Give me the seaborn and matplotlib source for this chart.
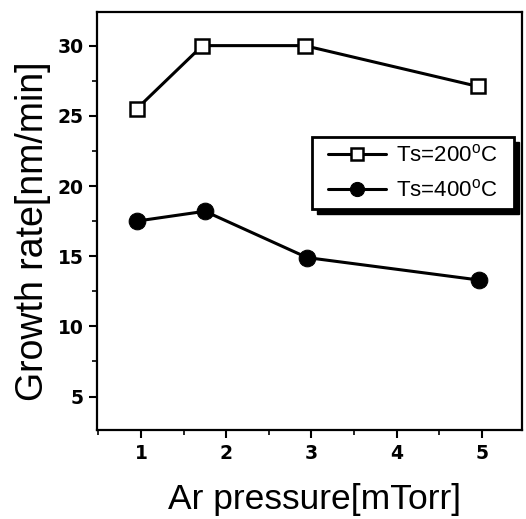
import matplotlib
matplotlib.use("Agg")
import matplotlib.pyplot as plt
import seaborn as sns
import pandas as pd
from matplotlib.ticker import MultipleLocator
from matplotlib.patches import Rectangle

pressure_200 = [0.95, 1.72, 2.92, 4.95]
rate_200 = [25.5, 30.0, 30.0, 27.1]
pressure_400 = [0.95, 1.75, 2.95, 4.97]
rate_400 = [17.5, 18.2, 14.9, 13.3]
labels = ["Ts=200$^{\\rm o}$C", "Ts=400$^{\\rm o}$C"]

df = pd.concat([
    pd.DataFrame({"p": pressure_200, "r": rate_200, "s": labels[0]}),
    pd.DataFrame({"p": pressure_400, "r": rate_400, "s": labels[1]}),
])

sns.set_style("ticks", {"text.color": "black", "axes.labelcolor": "black",
                        "xtick.color": "black", "ytick.color": "black",
                        "axes.edgecolor": "black"})
plt.rcParams["font.family"] = ["Liberation Sans", "DejaVu Sans"]
plt.rcParams["mathtext.fontset"] = "custom"
plt.rcParams["mathtext.rm"] = "Liberation Sans"

W, H = 526, 519
fig = plt.figure(figsize=(W / 100, H / 100), dpi=100)
ax = fig.add_axes([0.184, 0.171, 0.808, 0.806])

sns.lineplot(data=df[df.s == labels[0]], x="p", y="r", ax=ax, color="black",
             marker="s", markersize=10, markerfacecolor="white",
             markeredgecolor="black", markeredgewidth=1.8, linewidth=2.2,
             label=labels[0])
sns.lineplot(data=df[df.s == labels[1]], x="p", y="r", ax=ax, color="black",
             marker="o", markersize=12, markerfacecolor="black",
             markeredgecolor="black", linewidth=2.2, label=labels[1])

ax.set_xlim(0.48, 5.47)
ax.set_ylim(2.6, 32.4)
ax.xaxis.set_major_locator(MultipleLocator(1))
ax.xaxis.set_minor_locator(MultipleLocator(0.5))
ax.yaxis.set_major_locator(MultipleLocator(5))
ax.yaxis.set_minor_locator(MultipleLocator(2.5))
ax.tick_params(which="major", length=6, width=1.5, labelsize=13.5,
               direction="out", colors="black")
ax.tick_params(axis="x", which="major", pad=4)
ax.tick_params(which="minor", length=3.5, width=1.2, direction="out",
               colors="black")
for lab in ax.get_xticklabels() + ax.get_yticklabels():
    lab.set_fontweight("bold")
    lab.set_family("DejaVu Sans")
for sp in ax.spines.values():
    sp.set_linewidth(1.6)
    sp.set_color("black")

ax.set_xlabel("Ar pressure[mTorr]", fontsize=25.5, color="black")
ax.set_ylabel("Growth rate[nm/min]", fontsize=27, color="black")
ax.xaxis.set_label_coords(0.513, -0.127)
ax.yaxis.set_label_coords(-0.108, 0.476)

leg = ax.legend(loc="upper left", bbox_to_anchor=(0.545, 0.683), frameon=False,
                fontsize=16, handlelength=2.6, borderpad=0, labelspacing=0.6,
                handletextpad=0.45, borderaxespad=0, markerscale=0.85,
                labelcolor="black")

fig.canvas.draw()
bb = leg.get_window_extent()
x0, x1 = bb.x0 - 16, bb.x1 + 16
y0, y1 = bb.y0 - 7, bb.y1 + 8
tr = fig.transFigure
sh = Rectangle(((x0 + 5) / W, (y0 - 5) / H), (x1 - x0) / W, (y1 - y0) / H,
               transform=tr, facecolor="black", edgecolor="black", zorder=5)
fr = Rectangle((x0 / W, y0 / H), (x1 - x0) / W, (y1 - y0) / H, transform=tr,
               facecolor="white", edgecolor="black", linewidth=2, zorder=6)
fig.add_artist(sh)
fig.add_artist(fr)
leg.set_zorder(7)
leg.remove()
fig.add_artist(leg)

fig.savefig("out.png", dpi=100)
